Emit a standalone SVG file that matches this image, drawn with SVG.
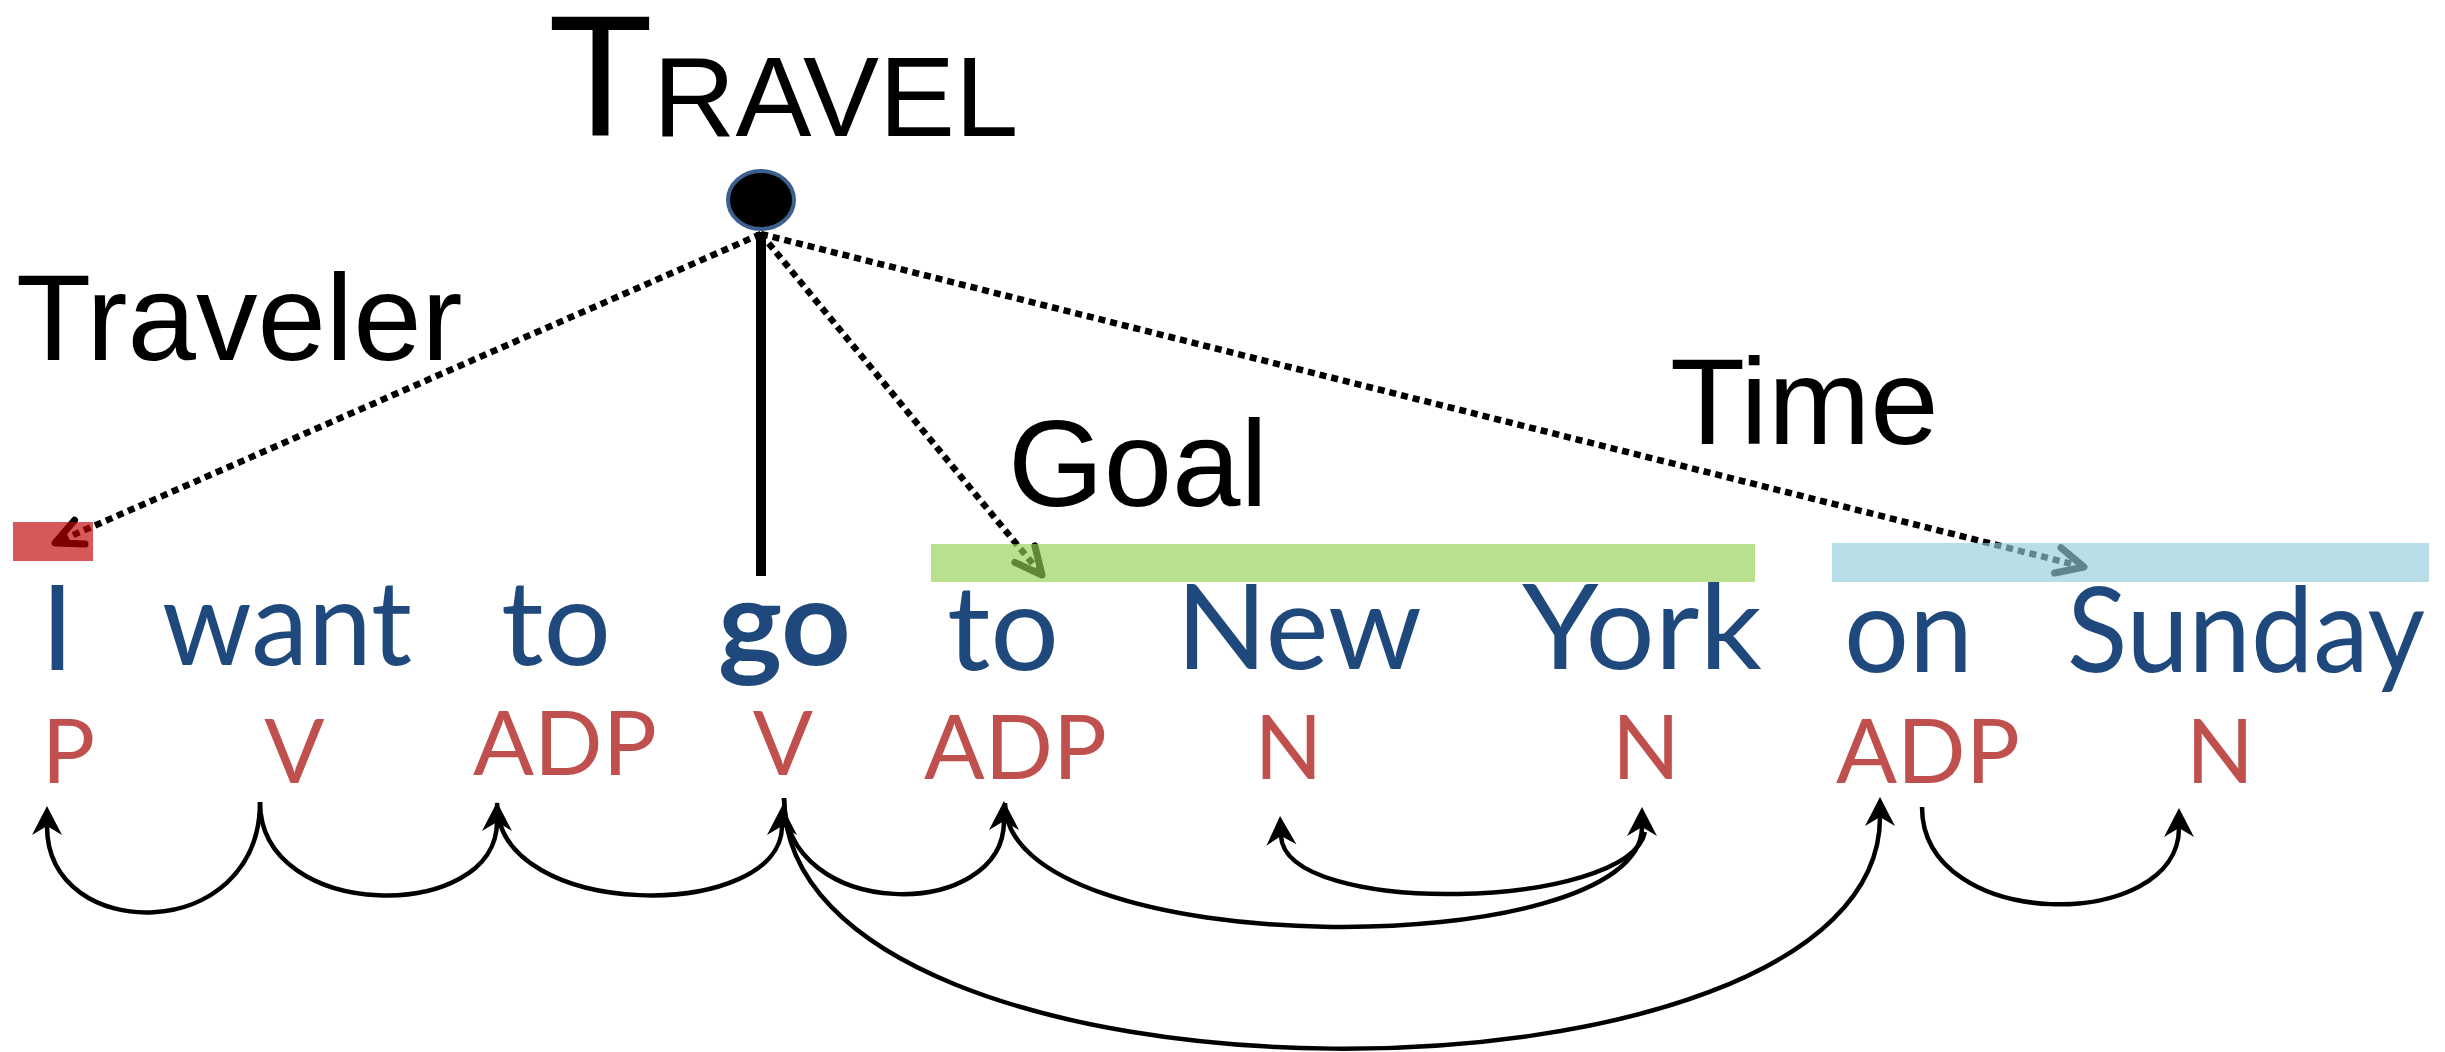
<svg xmlns="http://www.w3.org/2000/svg" width="2445" height="1052" viewBox="0 0 2445 1052">
<style>
  .lbl { font-family: "Liberation Sans", Arial, sans-serif; fill: #000; }
  .word { font-family: Lato, "Open Sans", sans-serif; font-size: 119px; fill: #1F497D; }
  .pos { font-family: Lato, "Open Sans", sans-serif; font-size: 89px; fill: #C0504D; }
  .dot { fill: none; stroke: #000; stroke-width: 6.5; stroke-dasharray: 7 5; marker-end: url(#open); }
  .dep { fill: none; stroke: #000; stroke-width: 4.5; marker-end: url(#dep); }
  .bar { opacity: 0.65; }
</style>
<defs>
  <marker id="dep" markerUnits="userSpaceOnUse" viewBox="-12 -17 34 34" markerWidth="34" markerHeight="34" refX="0" refY="0" orient="auto">
    <path d="M20,0 L-9,-15 L0,0 L-9,15 Z" fill="#000"/>
  </marker>
  <marker id="open" markerUnits="userSpaceOnUse" viewBox="-34 -20 42 40" markerWidth="42" markerHeight="40" refX="0" refY="0" orient="auto">
    <path d="M-27,-13 L0,0 L-27,13" fill="none" stroke="#000" stroke-width="7" stroke-linecap="round" stroke-linejoin="round"/>
  </marker>
</defs>
<rect width="2445" height="1052" fill="#fff"/>

<g id="connectors">
  <line x1="761" y1="232" x2="761" y2="576" stroke="#000" stroke-width="10"/>
  <line class="dot" x1="761" y1="234" x2="55" y2="543"/>
  <line class="dot" x1="761" y1="234" x2="1042" y2="575"/>
  <line class="dot" x1="761" y1="234" x2="2084" y2="567"/>
  <path class="dep" d="M260,802 C260,945 47,945 47,826"/>
  <path class="dep" d="M260,802 C260,923 497,923 497,822"/>
  <path class="dep" d="M497,803 C497,922 782,922 782,826"/>
  <path class="dep" d="M784,798 C784,922 1004,922 1004,821"/>
  <path class="dep" d="M1005,803 C1005,964 1642,964 1642,827"/>
  <path class="dep" d="M1645,832 C1628,910 1285,918 1281,836"/>
  <path class="dep" d="M784,798 C784,1129 1880,1129 1880,817"/>
  <path class="dep" d="M1922,807 C1922,933 2179,933 2179,828"/>
</g>

<g id="frame-travel">
  <ellipse cx="761" cy="200" rx="33" ry="29" fill="#000" stroke="#3B5F8E" stroke-width="4"/>
  <text class="lbl" x="548" y="136"><tspan font-size="172">T</tspan><tspan font-size="114">RAVEL</tspan></text>
</g>

<g id="role-traveler">
  <text class="lbl" x="16" y="360" font-size="123">Traveler</text>
  <rect class="bar" x="13" y="522" width="80" height="39" fill="#C00000"/>
</g>
<g id="role-goal">
  <text class="lbl" x="1008" y="506" font-size="123">Goal</text>
  <rect class="bar" x="931" y="544" width="824" height="38" fill="#92D050"/>
</g>
<g id="role-time">
  <text class="lbl" x="1670" y="444" font-size="123">Time</text>
  <rect class="bar" x="1832" y="543" width="597" height="39" fill="#92CDDC"/>
</g>

<g id="w-I"><text class="word" x="57.5" y="670" text-anchor="middle">I</text><text class="pos" x="68.5" y="783" text-anchor="middle">P</text></g>
<g id="w-want"><text class="word" x="162" y="665" textLength="250" lengthAdjust="spacingAndGlyphs">want</text><text class="pos" x="294.5" y="783" text-anchor="middle">V</text></g>
<g id="w-to1"><text class="word" x="501" y="665" textLength="110" lengthAdjust="spacingAndGlyphs">to</text><text class="pos" x="473" y="775" textLength="184" lengthAdjust="spacingAndGlyphs">ADP</text></g>
<g id="w-go"><text class="word" x="718" y="665" font-weight="bold" textLength="133" lengthAdjust="spacingAndGlyphs">go</text><text class="pos" x="783" y="775" text-anchor="middle">V</text></g>
<g id="w-to2"><text class="word" x="947" y="670" textLength="112" lengthAdjust="spacingAndGlyphs">to</text><text class="pos" x="924" y="779" textLength="183" lengthAdjust="spacingAndGlyphs">ADP</text></g>
<g id="w-New"><text class="word" x="1176" y="669" textLength="246" lengthAdjust="spacingAndGlyphs">New</text><text class="pos" x="1288.5" y="779" text-anchor="middle">N</text></g>
<g id="w-York"><text class="word" x="1522" y="669" textLength="240" lengthAdjust="spacingAndGlyphs">York</text><text class="pos" x="1646" y="779" text-anchor="middle">N</text></g>
<g id="w-on"><text class="word" x="1844" y="672" textLength="129" lengthAdjust="spacingAndGlyphs">on</text><text class="pos" x="1836" y="783" textLength="184" lengthAdjust="spacingAndGlyphs">ADP</text></g>
<g id="w-Sunday"><text class="word" x="2067" y="672" textLength="358" lengthAdjust="spacingAndGlyphs">Sunday</text><text class="pos" x="2220" y="783" text-anchor="middle">N</text></g>
</svg>
